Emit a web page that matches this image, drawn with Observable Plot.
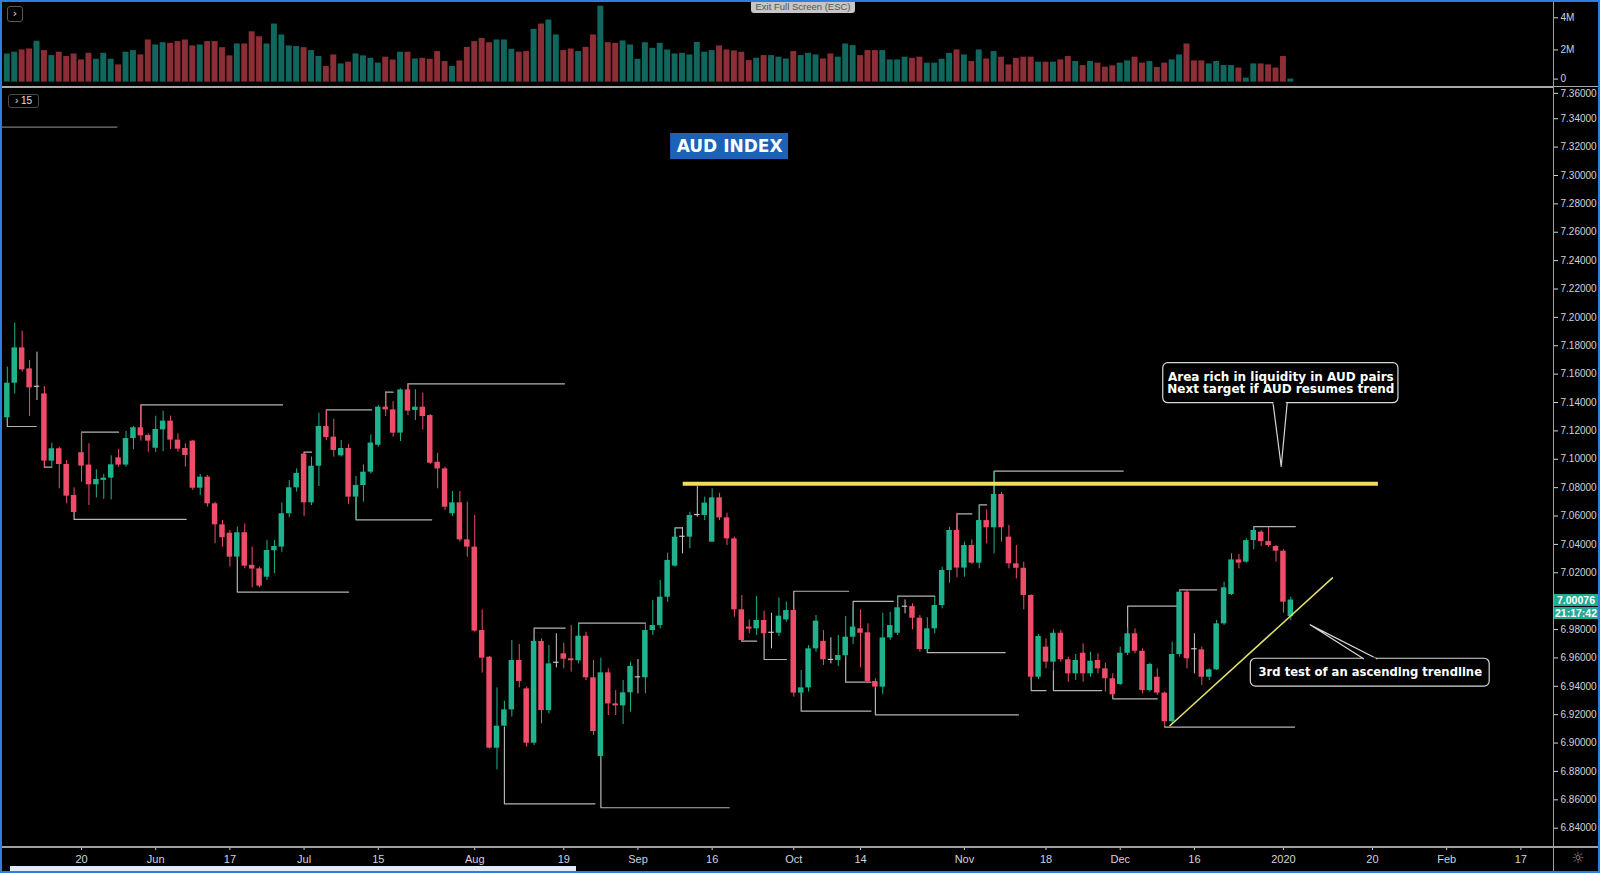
<!DOCTYPE html>
<html>
<head>
<meta charset="utf-8">
<script src="https://cdn.jsdelivr.net/npm/d3@7"></script>
<script src="https://cdn.jsdelivr.net/npm/@observablehq/plot@0.6"></script>
<style>
  html, body { margin:0; padding:0; background:#000; }
  #chart { position:relative; width:1600px; height:873px; background:#000; overflow:hidden; font-family:"Liberation Sans", Arial, sans-serif; }
  #vol, #main { position:absolute; left:0; width:1600px; }
  #vol { top:0; height:88px; }
  #main { top:88px; height:785px; }
  .ov { position:absolute; box-sizing:border-box; }
</style>
</head>
<body>
<div id="chart">
  <div id="main"></div>
  <div id="vol"></div>
</div>
<script>
// ---------------- DATA (daily bars, index 0 = 20 May 2019) ----------------
const firstIndex = -10;
const opens = [
7.1292,7.1536,7.1785,7.1637,7.1507,7.1461,7.0987,7.1074,7.0963,7.0745,
7.1046,7.0959,7.0820,7.0851,7.0867,7.1010,7.0959,7.1146,7.1222,7.1168,
7.1078,7.1207,7.1269,7.1135,7.1076,7.1128,7.0796,7.0874,7.0686,7.0538,
7.0479,7.0310,7.0482,7.0252,7.0228,7.0169,7.0355,7.0381,7.0616,7.0799,
7.1036,7.0693,7.0951,7.1231,7.1156,7.1024,7.1076,7.0733,7.0815,7.0909,
7.1099,7.1367,7.1348,7.1184,7.1489,7.1344,7.1367,7.1308,7.0979,7.0932,
7.0616,7.0693,7.0432,7.0381,6.9793,6.9605,6.8964,6.9119,6.9234,6.9582,
6.9382,6.8999,6.9716,6.9229,6.9562,6.9629,6.9594,6.9580,6.9753,6.9460,
6.8905,6.9495,6.9276,6.9262,6.9354,6.9459,6.9460,6.9793,6.9828,7.0028,
7.0247,7.0450,7.0451,7.0603,7.0604,7.0416,7.0728,7.0587,7.0439,6.9939,
6.9817,6.9805,6.9864,6.9773,6.9774,6.9868,6.9934,6.9352,6.9389,6.9664,
6.9716,6.9583,6.9582,6.9615,6.9746,6.9805,6.9777,6.9434,6.9394,6.9741,
6.9774,6.9957,6.9962,6.9880,6.9659,6.9805,6.9969,7.0216,7.0498,7.0233,
7.0392,7.0268,7.0568,7.0517,7.0752,7.0451,7.0263,7.0232,7.0040,6.9464,
6.9676,6.9570,6.9774,6.9587,6.9488,6.9633,6.9488,6.9582,6.9523,6.9453,
6.9413,6.9633,6.9770,6.9647,6.9370,6.9464,6.9352,6.9150,6.9624,7.0063,
6.9658,6.9657,6.9464,6.9516,6.9840,7.0047,7.0291,7.0275,7.0427,7.0486,
7.0420,7.0385,7.0352,6.9892];
const highs = [
7.1649,7.1959,7.1903,7.1696,7.1755,7.1513,7.1114,7.1085,7.0992,7.0799,
7.1191,7.1109,7.0926,7.0893,7.1024,7.1069,7.1196,7.1231,7.1383,7.1179,
7.1304,7.1339,7.1304,7.1179,7.1109,7.1133,7.0893,7.0886,7.0698,7.0569,
7.0498,7.0522,7.0545,7.0381,7.0240,7.0428,7.0428,7.0691,7.0850,7.0933,
7.1050,7.1015,7.1325,7.1344,7.1282,7.1132,7.1104,7.0879,7.0961,7.1172,
7.1379,7.1477,7.1407,7.1496,7.1532,7.1489,7.1466,7.1315,7.1043,7.0944,
7.0773,7.0773,7.0698,7.0604,6.9939,6.9610,6.9389,6.9295,6.9723,6.9695,
6.9394,6.9735,6.9735,6.9687,6.9770,6.9704,6.9828,6.9845,6.9781,6.9582,
6.9598,6.9523,6.9370,6.9441,6.9570,6.9589,6.9845,7.0005,7.0146,7.0338,
7.0517,7.0517,7.0627,7.0810,7.0733,7.0792,7.0761,7.0620,7.0451,7.0040,
6.9868,7.0033,6.9929,6.9915,7.0023,6.9993,6.9960,6.9511,6.9687,6.9899,
6.9793,6.9742,6.9758,6.9892,6.9939,6.9939,6.9840,6.9453,6.9915,6.9922,
7.0033,7.0009,6.9981,6.9899,6.9883,7.0033,7.0239,7.0521,7.0620,7.0416,
7.0432,7.0674,7.0644,7.0914,7.0768,7.0533,7.0392,7.0275,7.0045,6.9765,
6.9734,6.9797,6.9793,6.9605,6.9624,6.9699,6.9640,6.9629,6.9563,6.9488,
6.9676,6.9812,6.9805,6.9664,6.9563,6.9523,6.9360,6.9711,7.0080,7.0075,
6.9770,6.9676,6.9523,6.9864,7.0134,7.0334,7.0329,7.0439,7.0526,7.0498,
7.0521,7.0392,7.0362,7.0028];
const lows = [
7.1273,7.1461,7.1614,7.1301,7.1414,7.0944,7.0944,7.0792,7.0686,7.0616,
7.0839,7.0674,7.0728,7.0717,7.0714,7.0944,7.0944,7.1067,7.1128,7.1050,
7.1048,7.1053,7.1069,7.1050,7.0944,7.0780,7.0745,7.0663,7.0404,7.0381,
7.0240,7.0287,7.0228,7.0094,7.0094,7.0146,7.0193,7.0345,7.0587,7.0768,
7.0597,7.0674,7.0808,7.1132,7.1015,7.1015,7.0681,7.0580,7.0698,7.0897,
7.1085,7.1301,7.1156,7.1125,7.1308,7.1273,7.1207,7.0963,7.0792,7.0639,
7.0597,7.0416,7.0310,6.9781,6.9493,6.8959,6.8811,6.9112,6.9183,6.9389,
6.8971,6.8983,6.9135,6.9206,6.9530,6.9523,6.9500,6.9558,6.9441,6.9053,
6.8901,6.9194,6.9194,6.9131,6.9218,6.9347,6.9347,6.9758,6.9805,6.9993,
7.0240,7.0333,7.0369,7.0592,7.0568,7.0416,7.0568,7.0392,6.9887,6.9711,
6.9770,6.9758,6.9746,6.9664,6.9751,6.9852,6.9323,6.9335,6.9359,6.9640,
6.9547,6.9558,6.9540,6.9594,6.9695,6.9530,6.9417,6.9382,6.9342,6.9723,
6.9758,6.9911,6.9798,6.9640,6.9640,6.9770,6.9946,7.0127,7.0164,7.0169,
7.0258,7.0228,7.0404,7.0333,7.0416,7.0228,7.0157,6.9939,6.9441,6.9446,
6.9523,6.9511,6.9570,6.9429,6.9441,6.9429,6.9464,6.9488,6.9359,6.9335,
6.9406,6.9617,6.9629,6.9347,6.9359,6.9335,6.9120,6.9130,6.9606,6.9523,
6.9488,6.9406,6.9441,6.9511,6.9829,7.0040,7.0228,7.0268,7.0362,7.0385,
7.0380,7.0275,6.9915,6.9864];
const closes = [
7.1536,7.1785,7.1630,7.1503,7.1508,7.0987,7.1074,7.0963,7.0740,7.0625,
7.0952,7.0820,7.0858,7.0867,7.0961,7.0959,7.1146,7.1222,7.1165,7.1128,
7.1210,7.1269,7.1135,7.1071,7.1027,7.0796,7.0874,7.0686,7.0538,7.0447,
7.0310,7.0482,7.0247,7.0226,7.0106,7.0357,7.0385,7.0616,7.0799,7.0900,
7.0693,7.0951,7.1231,7.1153,7.1062,7.1076,7.0733,7.0815,7.0909,7.1114,
7.1367,7.1348,7.1184,7.1489,7.1339,7.1367,7.1301,7.0972,7.0932,7.0662,
7.0693,7.0432,7.0381,6.9789,6.9598,6.8964,6.9119,6.9234,6.9582,6.9434,
6.8999,6.9716,6.9229,6.9558,6.9563,6.9591,6.9580,6.9753,6.9460,6.9081,
6.9495,6.9276,6.9262,6.9354,6.9540,6.9460,6.9793,6.9828,7.0028,7.0287,
7.0451,7.0451,7.0604,7.0604,7.0691,7.0728,7.0587,7.0439,6.9939,6.9723,
6.9803,6.9864,6.9770,6.9774,6.9894,6.9934,6.9352,6.9389,6.9664,6.9859,
6.9587,6.9582,6.9617,6.9746,6.9817,6.9774,6.9434,6.9394,6.9741,6.9828,
6.9953,6.9958,6.9880,6.9659,6.9805,6.9969,7.0216,7.0498,7.0233,7.0392,
7.0268,7.0568,7.0517,7.0752,7.0517,7.0263,7.0232,7.0040,6.9464,6.9751,
6.9570,6.9774,6.9587,6.9488,6.9582,6.9488,6.9577,6.9523,6.9453,6.9340,
6.9633,6.9770,6.9647,6.9370,6.9554,6.9352,6.9150,6.9624,7.0063,6.9594,
6.9657,6.9464,6.9516,6.9840,7.0094,7.0291,7.0268,7.0427,7.0498,7.0420,
7.0392,7.0352,6.9993,7.0008];
// volume in millions
const volumes = [
1.75,1.86,2.00,2.06,2.54,1.96,1.65,1.86,1.59,1.75,
1.38,1.79,1.42,1.79,1.42,1.07,1.86,1.96,1.69,2.62,
2.31,2.45,2.41,2.52,2.62,2.25,2.31,2.52,2.52,2.14,
1.63,2.37,2.37,3.13,2.82,2.37,3.61,2.93,2.25,2.21,
2.14,1.96,1.59,0.97,1.69,1.13,1.24,1.75,1.63,1.48,
1.18,1.55,1.38,1.86,1.86,1.44,1.48,1.42,1.90,1.28,
0.97,1.32,2.16,2.52,2.72,2.45,2.62,2.62,2.04,1.86,
1.90,3.28,3.61,3.86,2.93,1.96,2.06,1.90,2.16,2.93,
4.72,2.45,2.41,2.56,2.31,1.42,2.45,2.10,2.41,2.00,
1.75,1.79,1.69,2.47,1.86,1.96,2.25,2.00,1.94,1.86,
1.34,1.48,1.65,1.65,1.55,1.44,1.90,1.65,1.79,1.69,
1.44,1.75,1.55,2.37,2.27,1.65,1.96,1.96,1.96,1.38,
1.38,1.55,1.48,1.55,1.18,1.18,1.42,1.79,2.00,1.69,
1.28,2.00,1.44,1.90,1.55,1.07,1.48,1.55,1.55,1.24,
1.24,1.24,1.38,1.59,1.28,1.03,1.28,1.18,0.93,1.01,
1.18,1.32,1.55,1.18,1.28,0.91,1.18,1.38,1.69,2.37,
1.32,1.32,1.13,1.28,1.03,1.03,0.87,0.25,1.13,1.13,
1.07,0.87,1.59,0.19];

// x-axis ticks (bar index) and their labels
const timeTicks = [0,10,20,30,40,53,65,75,85,96,105,119,130,140,150,162,174,184,194];
const timeLabels = ["20","Jun","17","Jul","15","Aug","19","Sep","16","Oct","14","Nov","18","Dec","16","2020","20","Feb","17"];
// 7.00000 sits under the last-price label, so it is not listed; 7.36000 is the top label
const priceTicks = [6.84,6.86,6.88,6.90,6.92,6.94,6.96,6.98,7.02,7.04,7.06,7.08,7.10,7.12,7.14,7.16,7.18,7.20,7.22,7.24,7.26,7.28,7.30,7.32,7.34];
const topPriceTick = [7.36];
const volumeTicks = [2, 4];
const volumeZeroTick = [0];
const lastPrice = 7.00076;
const countdown = "21:17:42";

// drawn annotations (bar index, price)
// swing markers: [start bar, start price, level, end bar]
const swingMarks = [
  [-10,7.1292,7.1231,-6.1],[-5,7.0987,7.0944,-4],[-1,7.0625,7.0576,14.1],[0,7.1045,7.1191,5],
  [8,7.1221,7.1384,27.1],[21,7.0310,7.0064,36],[30,7.1036,7.1050,31],[33,7.1231,7.1348,39.1],
  [37,7.0733,7.0573,47.2],[41,7.1367,7.1473,42],[44,7.1489,7.1532,65.1],[57,6.9112,6.8572,69.2],
  [61,6.9716,6.9810,65.2],[67,6.9753,6.9845,76],[70,6.8905,6.8544,87.3],[80,7.0451,7.0517,81],
  [89,6.9723,6.9718,91],[92,6.9770,6.9589,95],[96,6.9934,7.0070,103.4],[97,6.9352,6.9225,106.4],
  [103,6.9615,6.9429,106.4],[104,6.9822,6.9998,109.4],[107,6.9394,6.9199,126.3],[110,6.9953,7.0035,115],
  [114,6.9659,6.9638,124.5],[118,7.0498,7.0615,120],[121,7.0568,7.0679,122],[123,7.0752,7.0916,140.4],
  [128,6.9464,6.9370,130],[131,6.9511,6.9370,137.5],[139,6.9340,6.9312,145],[141,6.9770,6.9965,147.6],
  [148,7.0063,7.0080,153],[158,7.0498,7.0526,163.6],[146,6.9120,6.9113,163.5]
];
const oldHigh = {from: -10.65, to: 4.9, level: 7.3341};
const resistance = {from: 81.1, to: 174.8, level: 7.0827};
const trendline = [{x: 146.7, y: 6.9122}, {x: 168.6, y: 7.0164}];
const titleBox = {text: "AUD INDEX", x1: 79.4, x2: 95.3, y1: 7.3112, y2: 7.3296};
const callouts = [
  {text: "Area rich in liquidity in AUD pairs\nNext target if AUD resumes trend", size: 12,
   x1: 145.8, x2: 177.5, y1: 7.1395, y2: 7.1677, tip: {x: 161.7, y: 7.0949}, baseX: [160.6, 162.5], baseY: 7.1395},
  {text: "3rd test of an ascending trendline", size: 11.6,
   x1: 157.6, x2: 189.8, y1: 6.9398, y2: 6.9594, tip: {x: 165.6, y: 6.9833}, baseX: [172.8, 174.6], baseY: 6.9594}
];

// ---------------- BUILD ----------------
const UP = "#20b28c", DOWN = "#ee4d69", DOJI = "#c9c9c9";
const VUP = "#11665e", VDOWN = "#8c2e36";
const xDomain = [-10.65, 198.4];

const bars = opens.map((o, k) => ({i: firstIndex + k, open: o, high: highs[k], low: lows[k], close: closes[k], vol: volumes[k]}));
const eps = 0.00015;
const upBars = bars.filter(d => d.close - d.open >= eps);
const downBars = bars.filter(d => d.open - d.close >= eps);
const dojiBars = bars.filter(d => Math.abs(d.close - d.open) < eps);
const half = 0.37, minBody = 0.0008;

function candles(data, color) {
  return [
    Plot.ruleX(data, {x: "i", y1: "low", y2: "high", stroke: color, strokeWidth: 1}),
    Plot.rect(data, {
      x1: d => d.i - half, x2: d => d.i + half,
      y1: d => Math.min(d.open, d.close),
      y2: d => Math.max(Math.max(d.open, d.close), Math.min(d.open, d.close) + minBody),
      fill: color
    })
  ];
}

const swingPts = swingMarks.flatMap(([i0, p0, lvl, i1], g) => [
  {g, x: i0, y: p0}, {g, x: i0, y: lvl}, {g, x: i1, y: lvl}
]);
const labelMap = new Map(timeTicks.map((t, k) => [t, timeLabels[k]]));

const calloutMarks = callouts.flatMap(c => [
  Plot.rect([c], {x1: "x1", x2: "x2", y1: "y1", y2: "y2", fill: "black", stroke: "#d8d8d8", strokeWidth: 1.2, rx: 5}),
  Plot.line([{x: c.baseX[0], y: c.baseY}, c.tip, {x: c.baseX[1], y: c.baseY}], {x: "x", y: "y", stroke: "#d8d8d8", strokeWidth: 1.2, fill: "black"}),
  Plot.ruleY([c.baseY], {x1: c.baseX[0] + 0.12, x2: c.baseX[1] - 0.12, stroke: "black", strokeWidth: 2.5}),
  Plot.text([c], {x: d => (d.x1 + d.x2) / 2, y: d => (d.y1 + d.y2) / 2, text: "text", fill: "white",
    fontFamily: "DejaVu Sans", fontWeight: "bold", fontSize: c.size, lineHeight: 0.97})
]);

const priceAxisOpts = {anchor: "right", tickFormat: d => d.toFixed(5), tickSize: 4, tickPadding: 3, fontSize: 10, label: null};

const main = Plot.plot({
  width: 1600, height: 785,
  marginLeft: 2, marginRight: 47, marginTop: 0, marginBottom: 27,
  style: {background: "transparent", color: "#d1d4dc", fontFamily: "Liberation Sans, Arial, sans-serif", fontSize: "11px", overflow: "visible"},
  x: {domain: xDomain, axis: null},
  y: {domain: [6.8271, 7.3613], axis: null},
  marks: [
    Plot.axisY({...priceAxisOpts, ticks: priceTicks}),
    Plot.axisY({...priceAxisOpts, ticks: topPriceTick, dy: 3}),
    Plot.axisX({anchor: "bottom", ticks: timeTicks, tickFormat: d => labelMap.get(d), tickSize: 4, tickPadding: 5, label: null}),
    Plot.ruleY([oldHigh], {y: "level", x1: "from", x2: "to", stroke: "#7a7a7a", strokeWidth: 1.2}),
    Plot.line(swingPts, {x: "x", y: "y", z: "g", stroke: "#b4b4b4", strokeWidth: 1.2}),
    ...candles(upBars, UP),
    ...candles(downBars, DOWN),
    ...candles(dojiBars, DOJI),
    Plot.ruleY([resistance], {y: "level", x1: "from", x2: "to", stroke: "#f2dd5a", strokeWidth: 4}),
    Plot.line(trendline, {x: "x", y: "y", stroke: "#e6e06a", strokeWidth: 1.5}),
    Plot.rect([titleBox], {x1: "x1", x2: "x2", y1: "y1", y2: "y2", fill: "#1c62b8"}),
    Plot.text([titleBox], {x: d => (d.x1 + d.x2) / 2, y: d => (d.y1 + d.y2) / 2, text: "text", fill: "white",
      fontFamily: "DejaVu Sans", fontWeight: "bold", fontSize: 17}),
    ...calloutMarks
  ]
});
document.getElementById("main").appendChild(main);

const volAxisOpts = {anchor: "right", tickFormat: d => d === 0 ? "0" : d + "M", tickSize: 4, tickPadding: 3, label: null};
const vol = Plot.plot({
  width: 1600, height: 88,
  marginLeft: 2, marginRight: 47, marginTop: 0, marginBottom: 0,
  style: {background: "transparent", color: "#d1d4dc", fontFamily: "Liberation Sans, Arial, sans-serif", fontSize: "10px", overflow: "visible"},
  x: {domain: xDomain, axis: null},
  y: {domain: [0, 4], range: [81.6, 17.3], axis: null},
  marks: [
    Plot.axisY({...volAxisOpts, ticks: volumeTicks}),
    Plot.axisY({...volAxisOpts, ticks: volumeZeroTick, dy: -3}),
    Plot.rect(bars, {x1: d => d.i - 0.4, x2: d => d.i + 0.4, y1: () => 0, y2: "vol",
      fill: d => d.close >= d.open ? VUP : VDOWN})
  ]
});
document.getElementById("vol").appendChild(vol);

// ---------------- CHROME / OVERLAYS ----------------
const chart = document.getElementById("chart");
function ov(style, html) {
  const el = document.createElement("div");
  el.className = "ov";
  Object.assign(el.style, style);
  if (html !== undefined) el.innerHTML = html;
  chart.appendChild(el);
  return el;
}
// panel separator, axis lines
ov({left: "0px", top: "86px", width: "1553px", height: "2px", background: "#a9a9a9"});
ov({left: "1553px", top: "86px", width: "47px", height: "1px", background: "#a9a9a9"});
ov({left: "1553px", top: "0px", width: "1px", height: "873px", background: "#a0a0a0"});
ov({left: "0px", top: "846px", width: "1600px", height: "1.5px", background: "#a0a0a0"});

// last price + countdown labels
const yLast = main.scale("y").apply(lastPrice) + 88;
const boxStyle = {left: "1554px", width: "44px", height: "12px", background: "#22ab94", color: "#fff",
  font: "bold 10.5px 'Liberation Sans', Arial, sans-serif", textAlign: "center", lineHeight: "12px"};
ov({...boxStyle, top: (yLast - 6) + "px"}, lastPrice.toFixed(5));
ov({...boxStyle, top: (yLast + 7) + "px"}, countdown);

// buttons & tooltip
ov({left: "7px", top: "6px", width: "16px", height: "16px", border: "1px solid #5a5a5a", borderRadius: "3px",
  color: "#e0e0e0", font: "11px 'DejaVu Sans'", textAlign: "center", lineHeight: "14px"}, "&#x203A;");
ov({left: "8px", top: "94px", width: "31px", height: "14px", border: "1px solid #4a4a4a", borderRadius: "3px",
  color: "#e0e0e0", font: "10px 'Liberation Sans'", textAlign: "center", lineHeight: "12px"}, "&#x203A; 15");
ov({left: "751px", top: "0px", width: "104px", height: "13px", background: "#c6c6c6", borderRadius: "0 0 3px 3px",
  color: "#555", font: "9.5px 'Liberation Sans'", textAlign: "center", lineHeight: "13px"}, "Exit Full Screen (ESC)");
ov({left: "1569px", top: "849px", width: "18px", height: "18px", color: "#9a9a9a", font: "15px 'DejaVu Sans'",
  textAlign: "center", lineHeight: "18px"}, "&#x263C;");

// window frame
ov({left: "0px", top: "0px", width: "2px", height: "873px", background: "#2a7fe0"});
ov({left: "0px", top: "0px", width: "1600px", height: "2px", background: "#2a7fe0"});
ov({left: "1598px", top: "0px", width: "2px", height: "873px", background: "#2a7fe0"});
ov({left: "10px", top: "866px", width: "566px", height: "5px", background: "#e4eaf1"});
ov({left: "0px", top: "871px", width: "1600px", height: "2px", background: "#2a7fe0"});
</script>
</body>
</html>
